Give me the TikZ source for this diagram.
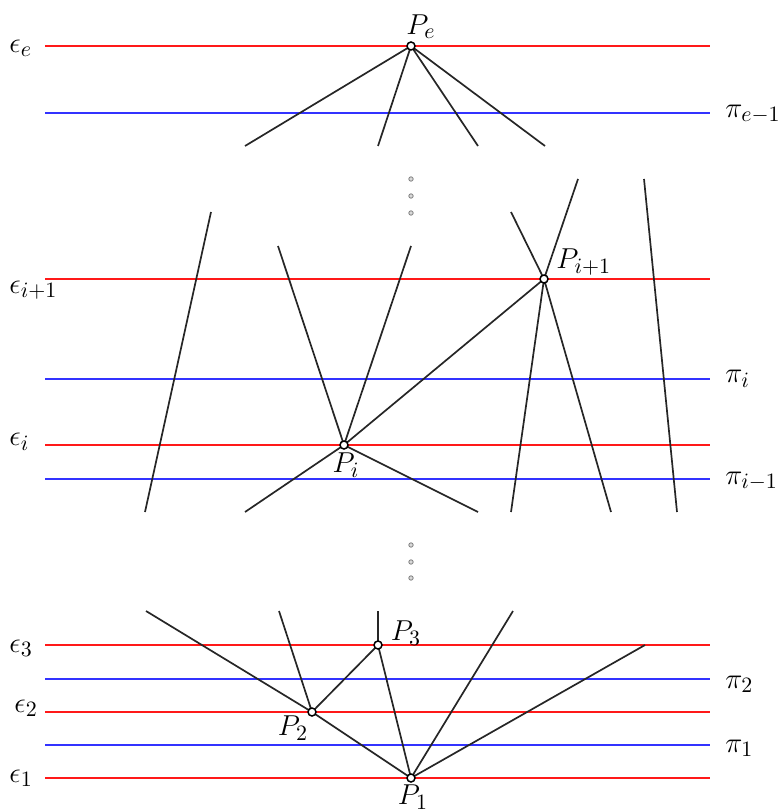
\documentclass[tikz,border=0pt]{standalone}
\usetikzlibrary{backgrounds}
\begin{document}
\begin{tikzpicture}[x=0.5pt,y=-0.5pt,
  eline/.style={red!90!white,line width=0.55pt},
  pline/.style={blue!80!white,line width=0.7pt},
  seg/.style={black!85,line width=0.85pt},
  pt/.style={circle,draw=black,fill=white,line width=0.75pt,inner sep=0pt,minimum size=4pt},
  vdot/.style={circle,draw=black!50,fill=black!15,line width=0.4pt,inner sep=0pt,minimum size=2.2pt},
  lbl/.style={font=\fontsize{15.5}{18}\selectfont,inner sep=0pt}]
\useasboundingbox (0,0) rectangle (779,812);
% points
\node[pt] (Pe) at (411,46) {};
\node[pt] (Pip) at (544,279) {};
\node[pt] (Pi) at (344,445) {};
\node[pt] (P3) at (378,645) {};
\node[pt] (P2) at (312,712) {};
\node[pt] (P1) at (411,778) {};
% line ends
\coordinate (El) at (45,46); \coordinate (Er) at (710,46);
\coordinate (Pml) at (45,113); \coordinate (Pmr) at (710,113);
\coordinate (Ipl) at (45,279); \coordinate (Ipr) at (710,279);
\coordinate (Pil) at (45,379); \coordinate (Pir) at (710,379);
\coordinate (Iil) at (45,445); \coordinate (Iir) at (710,445);
\coordinate (Qil) at (45,479); \coordinate (Qir) at (710,479);
\coordinate (T3l) at (45,645); \coordinate (T3r) at (710,645);
\coordinate (Q2l) at (45,679); \coordinate (Q2r) at (710,679);
\coordinate (T2l) at (45,712); \coordinate (T2r) at (710,712);
\coordinate (Q1l) at (45,745); \coordinate (Q1r) at (710,745);
\coordinate (T1l) at (45,778); \coordinate (T1r) at (710,778);
% free ends
\coordinate (a1) at (245,146); \coordinate (a2) at (378,146);
\coordinate (a3) at (478,146); \coordinate (a4) at (545,146);
\coordinate (b1t) at (211,212); \coordinate (b1b) at (145,512);
\coordinate (b2) at (278,246); \coordinate (b3) at (411,246);
\coordinate (b4) at (511,212); \coordinate (b5) at (578,179);
\coordinate (b6) at (511,512); \coordinate (b7) at (611,512);
\coordinate (b8t) at (644,179); \coordinate (b8b) at (677,512);
\coordinate (c1) at (245,512); \coordinate (c2) at (478,512);
\coordinate (d1) at (146,611); \coordinate (d2) at (279,611);
\coordinate (d3) at (378,611); \coordinate (d4) at (513,611);
\coordinate (d5) at (645,645);
\begin{scope}[on background layer]
\draw[eline] (El) -- (Er);
\draw[pline] (Pml) -- (Pmr);
\draw[eline] (Ipl) -- (Ipr);
\draw[pline] (Pil) -- (Pir);
\draw[eline] (Iil) -- (Iir);
\draw[pline] (Qil) -- (Qir);
\draw[eline] (T3l) -- (T3r);
\draw[pline] (Q2l) -- (Q2r);
\draw[eline] (T2l) -- (T2r);
\draw[pline] (Q1l) -- (Q1r);
\draw[eline] (T1l) -- (T1r);
\draw[seg] (Pe.center) -- (a1) (Pe.center) -- (a2) (Pe.center) -- (a3) (Pe.center) -- (a4);
\draw[seg] (b1t) -- (b1b);
\draw[seg] (b2) -- (Pi.center) (b3) -- (Pi.center) (Pi.center) -- (Pip.center);
\draw[seg] (Pi.center) -- (c1) (Pi.center) -- (c2);
\draw[seg] (b4) -- (Pip.center) (b5) -- (Pip.center) (Pip.center) -- (b6) (Pip.center) -- (b7);
\draw[seg] (b8t) -- (b8b);
\draw[seg] (d1) -- (P2.center) (d2) -- (P2.center) (P2.center) -- (P3.center) (P2.center) -- (P1.center);
\draw[seg] (d3) -- (P3.center) (P3.center) -- (P1.center);
\draw[seg] (P1.center) -- (d4) (P1.center) -- (d5);
\end{scope}
% dots
\node[vdot] (v1) at (411,179) {};
\node[vdot] (v2) at (411,196) {};
\node[vdot] (v3) at (411,213) {};
\node[vdot] (w1) at (411,545) {};
\node[vdot] (w2) at (411,562) {};
\node[vdot] (w3) at (411,578) {};
% labels
\node[lbl] (lPe) at (421,27) {$P_e$};
\node[lbl,anchor=west] (lPip) at (556,262) {$P_{i+1}$};
\node[lbl] (lPi) at (346,465) {$P_i$};
\node[lbl] (lP3) at (406,633) {$P_3$};
\node[lbl] (lP2) at (293,728) {$P_2$};
\node[lbl] (lP1) at (413,797) {$P_1$};
\node[lbl,anchor=west] (le) at (9,48) {$\epsilon_e$};
\node[lbl,anchor=west] (lip) at (9,290) {$\epsilon_{i+1}$};
\node[lbl,anchor=west] (li) at (9,442) {$\epsilon_i$};
\node[lbl,anchor=west] (l3) at (9,648) {$\epsilon_3$};
\node[lbl,anchor=west] (l2) at (14,708) {$\epsilon_2$};
\node[lbl,anchor=west] (l1) at (9,778) {$\epsilon_1$};
\node[lbl,anchor=west] (rpe) at (725,114) {$\pi_{e-1}$};
\node[lbl,anchor=west] (rpi) at (725,379) {$\pi_i$};
\node[lbl,anchor=west] (rpim) at (725,481) {$\pi_{i-1}$};
\node[lbl,anchor=west] (rp2) at (725,684) {$\pi_2$};
\node[lbl,anchor=west] (rp1) at (725,748) {$\pi_1$};
\end{tikzpicture}
\end{document}
